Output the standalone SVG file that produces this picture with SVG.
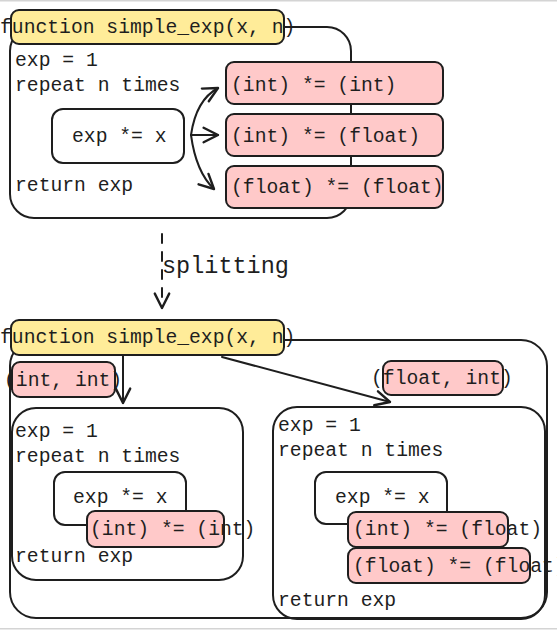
<svg xmlns="http://www.w3.org/2000/svg" width="557" height="630" viewBox="0 0 557 630">
<defs>
<style>
.t{font-family:"Liberation Mono","DejaVu Sans Mono",monospace;font-size:19.7px;fill:#1e1e1e}
.s{font-family:"Liberation Mono","DejaVu Sans Mono",monospace;font-size:23.5px;fill:#1e1e1e}
.box{fill:none;stroke:#1e1e1e;stroke-width:2}
.wbox{fill:#ffffff;stroke:#1e1e1e;stroke-width:2}
.yel{fill:#ffec99;stroke:#1e1e1e;stroke-width:2}
.pink{fill:#ffc9c9;stroke:#1e1e1e;stroke-width:2}
.ln{fill:none;stroke:#1e1e1e;stroke-width:2;stroke-linecap:round}
</style>
<marker id="ah" markerUnits="userSpaceOnUse" markerWidth="24" markerHeight="24" viewBox="-14 -10 16 20" refX="0" refY="0" orient="auto">
<path d="M-12,-6 L0,0 L-12,6" fill="none" stroke="#1e1e1e" stroke-width="2" stroke-linecap="round" stroke-linejoin="round"/>
</marker>
</defs>
<rect x="0" y="0" width="557" height="630" fill="#ffffff"/>
<line x1="0" y1="0.8" x2="557" y2="0.8" stroke="#d4d4d4" stroke-width="1.6"/>
<line x1="0" y1="628.8" x2="557" y2="628.8" stroke="#d4d4d4" stroke-width="1.6"/>

<g id="outer1">
<rect class="box" x="10" y="27" width="341" height="191" rx="24"/>
<text class="t" x="15" y="66">exp = 1</text>
<text class="t" x="15" y="91">repeat n times</text>
<text class="t" x="15" y="191">return exp</text>
</g>
<g id="func1">
<rect class="yel" x="11" y="10" width="273" height="34" rx="8"/>
<text class="t" x="0" y="33">function simple_exp(x, n)</text>
</g>
<g id="mul1">
<rect class="wbox" x="52" y="109" width="132" height="54" rx="11"/>
<text class="t" x="72" y="142">exp *= x</text>
</g>
<g id="ii1">
<rect class="pink" x="226" y="62" width="217" height="42" rx="8"/>
<text class="t" x="231" y="91">(int) *= (int)</text>
</g>
<g id="if1">
<rect class="pink" x="226" y="114" width="217" height="42" rx="8"/>
<text class="t" x="231" y="142">(int) *= (float)</text>
</g>
<g id="ff1">
<rect class="pink" x="226" y="166" width="217" height="42" rx="8"/>
<text class="t" x="231" y="193">(float) *= (float)</text>
</g>

<g id="split-label">
<text class="s" x="162" y="273">splitting</text>
</g>

<g id="outer2">
<rect class="box" x="10" y="340" width="537" height="278" rx="26"/>
</g>
<g id="func2">
<rect class="yel" x="11" y="320" width="273" height="35" rx="8"/>
<text class="t" x="0" y="343">function simple_exp(x, n)</text>
</g>
<g id="tag-ii">
<rect class="pink" x="12" y="362" width="103" height="35" rx="8"/>
<text class="t" x="4" y="386">(int, int)</text>
</g>
<g id="tag-fi">
<rect class="pink" x="383" y="361" width="120" height="34" rx="8"/>
<text class="t" x="371" y="384">(float, int)</text>
</g>
<g id="left">
<rect class="box" x="12" y="408" width="231" height="172" rx="24"/>
<text class="t" x="15" y="437">exp = 1</text>
<text class="t" x="15" y="462">repeat n times</text>
<text class="t" x="15" y="562">return exp</text>
</g>
<g id="left-mul">
<rect class="wbox" x="54" y="472" width="132" height="53" rx="11"/>
<text class="t" x="73" y="503">exp *= x</text>
</g>
<g id="left-ii">
<rect class="pink" x="87" y="511" width="137" height="36" rx="8"/>
<text class="t" x="90" y="535">(int) *= (int)</text>
</g>
<g id="right">
<rect class="box" x="273" y="407" width="272" height="212" rx="24"/>
<text class="t" x="278" y="431">exp = 1</text>
<text class="t" x="278" y="456">repeat n times</text>
<text class="t" x="278" y="606">return exp</text>
</g>
<g id="right-mul">
<rect class="wbox" x="315" y="472" width="132" height="52" rx="11"/>
<text class="t" x="335" y="503">exp *= x</text>
</g>
<g id="right-if">
<rect class="pink" x="348" y="512" width="160" height="35" rx="8"/>
<text class="t" x="353" y="535">(int) *= (float)</text>
</g>
<g id="right-ff">
<rect class="pink" x="348" y="548" width="182" height="35" rx="8"/>
<text class="t" x="353" y="572">(float) *= (float)</text>
</g>

<g id="connectors">
<path class="ln" d="M191 135 Q196 100 218 88" marker-end="url(#ah)"/>
<path class="ln" d="M191 135 L218 135" marker-end="url(#ah)"/>
<path class="ln" d="M191 135 Q196 172 214 189" marker-end="url(#ah)"/>
<path class="ln" d="M162 234 L162 308" stroke-dasharray="9 9" marker-end="url(#ah)"/>
<path class="ln" d="M123 356 L123 403" marker-end="url(#ah)"/>
<path class="ln" d="M222 357 L390 402" marker-end="url(#ah)"/>
</g>
</svg>
